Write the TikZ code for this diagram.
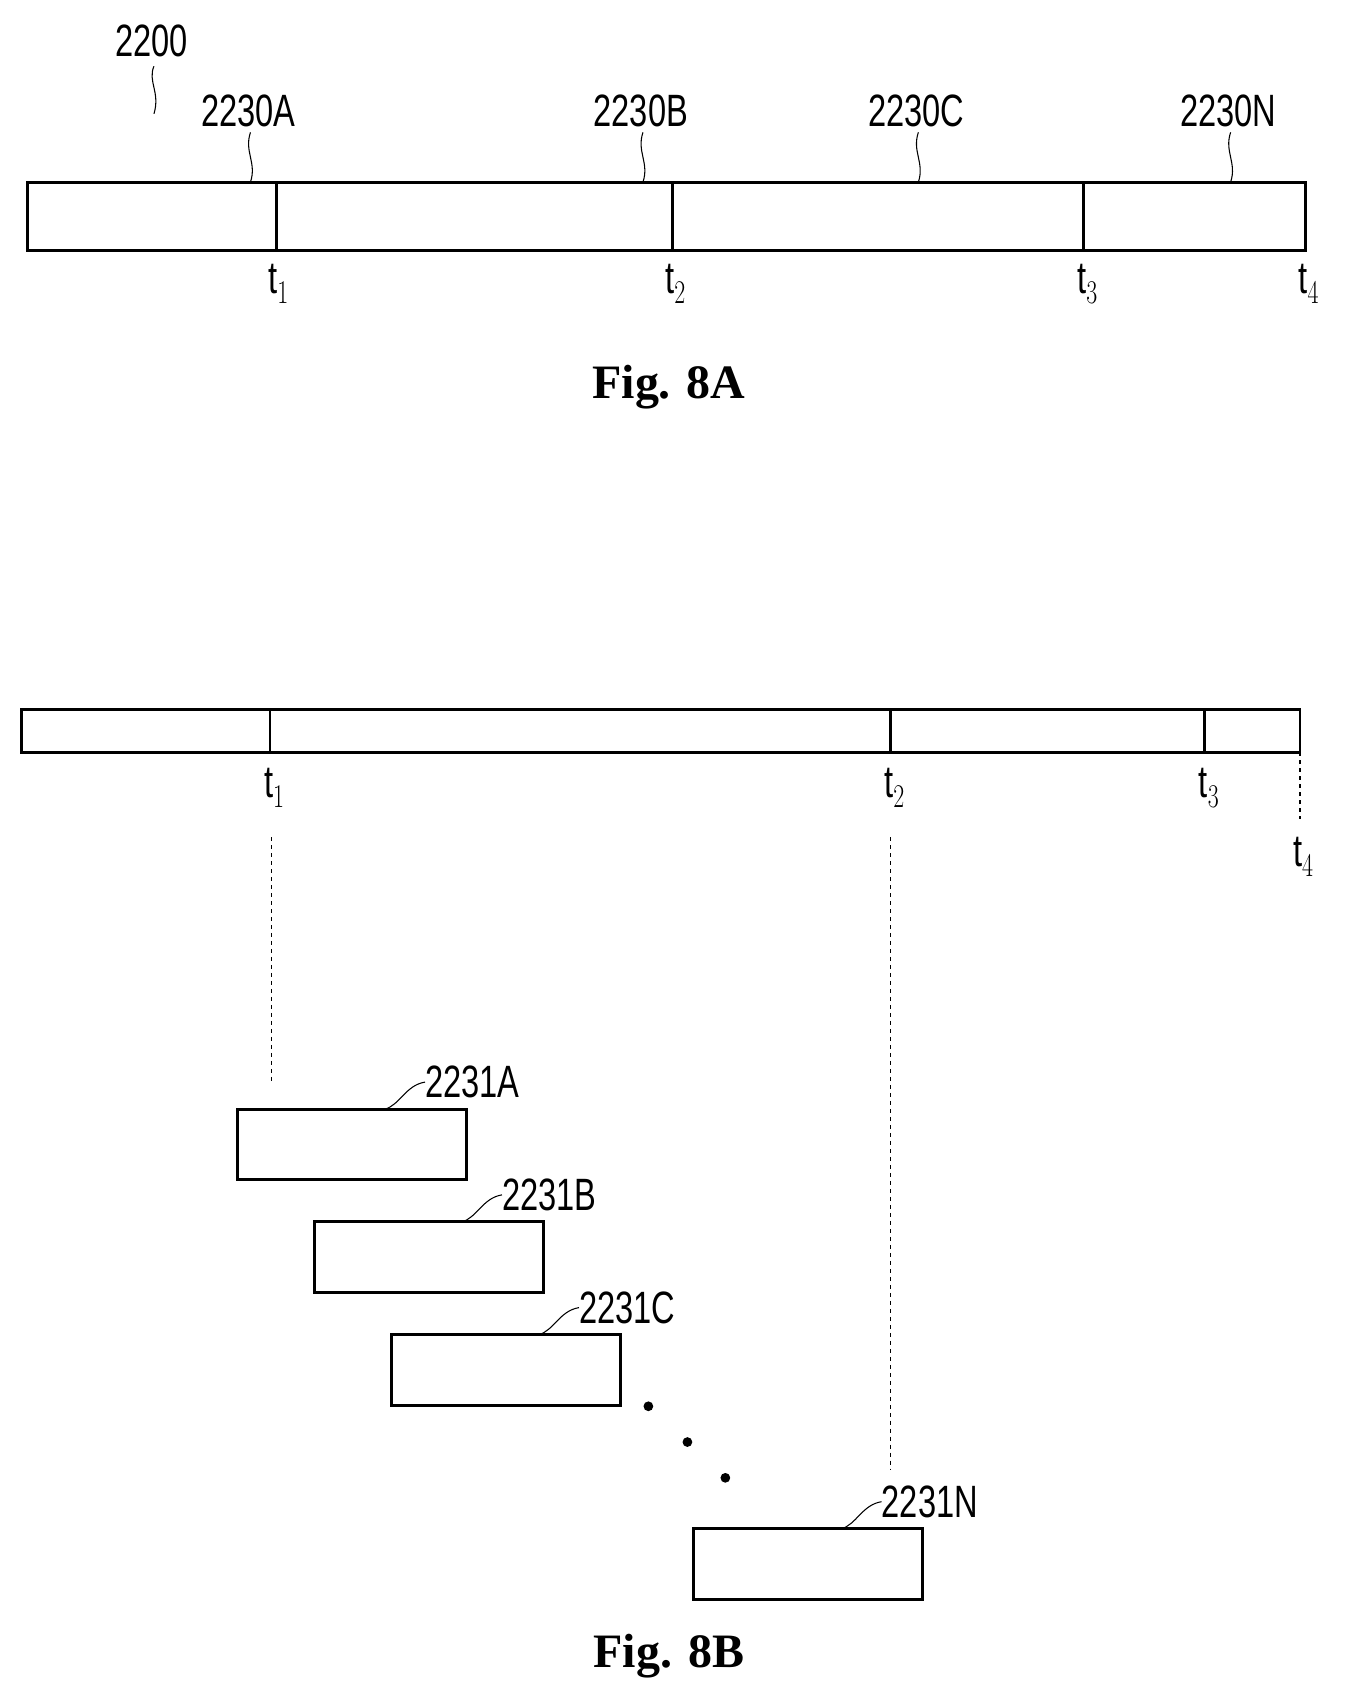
\documentclass[tikz,border=0pt]{standalone}
\usepackage{fontspec}
\setmainfont{Liberation Serif}
\newfontfamily\labelfont{Liberation Sans}
\usetikzlibrary{positioning}
\newcommand{\reflabel}[1]{\scalebox{0.72}[1]{#1}}
\tikzset{
  seg/.style={draw, line width=2.2pt},
  tick/.style={line width=2.2pt},
  refnum/.style={font=\labelfont\fontsize{34}{36}\selectfont, inner sep=0pt},
  tlabel/.style={font=\labelfont\fontsize{34}{36}\selectfont, inner sep=0pt},
  figcap/.style={font=\bfseries\fontsize{36}{40}\selectfont, inner sep=0pt},
  leader/.style={line width=0.8pt},
  guide/.style={dashed, line width=0.8pt},
  slot/.style={draw, line width=2.2pt}
}
\begin{document}
\begin{tikzpicture}[x=0.0286cm, y=-0.0286cm]
  \useasboundingbox (0,0) rectangle (1240,1567);
  % Fig. 8A
  \draw[seg] (25,168) rectangle (1204,231);
  \foreach \x/\n in {255/1, 620/2, 999/3}
    \draw[tick] (\x,168) -- (\x,231);
  \foreach \x/\n in {257/1, 623/2, 1003/3, 1207/4}
    \node[tlabel] (ta\n) at (\x,262) {\reflabel{t$_{\n}$}};
  \node[refnum] (sys) at (140,38) {\reflabel{2200}};
  \draw[leader] (sys.south) ++(2,8) .. controls (136,75) and (148,85) .. (142,105);
  \foreach \x/\l in {229/A, 591/B, 845/C, 1133/N} {
    \node[refnum] (seg\l) at (\x,102) {\reflabel{2230\l}};
    \coordinate (top\l) at (\x+2,168);
    \draw[leader] (seg\l.south) ++(2,5) .. controls (\x-4,140) and (\x+8,150) .. (top\l);
  }
  \node[figcap] (capA) at (617,357) {Fig. 8A};
  % Fig. 8B
  \draw[seg] (20,654) rectangle (1199,694);
  \foreach \x in {249, 821, 1111}
    \draw[tick] (\x,654) -- (\x,694);
  \foreach \x/\y/\n in {253/727/1, 825/727/2, 1115/727/3, 1202/790/4}
    \node[tlabel] (tb\n) at (\x,\y) {\reflabel{t$_{\n}$}};
  \draw[guide] (250,772) -- (250,1000);
  \draw[guide] (821,772) -- (821,1355);
  \draw[guide] (1199,694) -- (1199,755);
  \foreach \x/\y/\l in {219/1023/A, 290/1127/B, 361/1231/C, 640/1410/N} {
    \draw[slot] (\x,\y) rectangle ++(211,65);
    \node[refnum, anchor=west] (blk\l) at (\x+173,\y-25) {\reflabel{2231\l}};
    \draw[leader] (\x+136,\y) .. controls (\x+150,\y-4) and (\x+155,\y-22) .. (blk\l.west);
  }
  \foreach \x/\y in {598/1297, 634/1330, 669/1363}
    \fill (\x,\y) circle (4.5);
  \node[figcap] (capB) at (617,1527) {Fig. 8B};
\end{tikzpicture}
\end{document}
